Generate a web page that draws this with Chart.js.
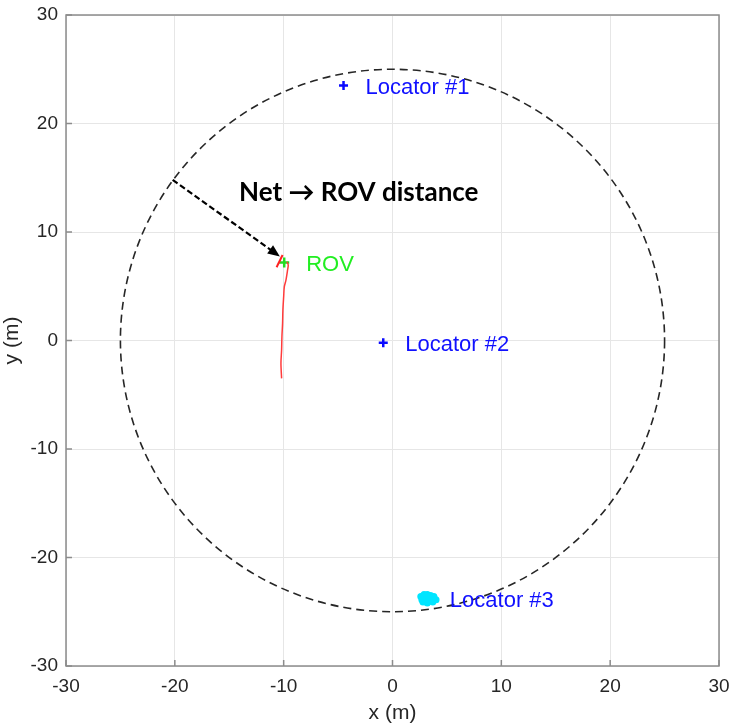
<!DOCTYPE html>
<html>
<head>
<meta charset="utf-8">
<script src="https://cdn.jsdelivr.net/npm/chart.js@4/dist/chart.umd.min.js"></script>
<style>
  html, body { margin: 0; padding: 0; background: #fff; }
  #wrap { width: 730px; height: 726px; }
</style>
</head>
<body>
<div id="wrap"><canvas id="c"></canvas></div>
<script>
// Axis tick values (m)
const axisTicks = [-30, -20, -10, 0, 10, 20, 30];

// ROV track (red)
const rovTrackX = [-10.19, -10.25, -10.19, -10.16, -10.10, -10.07, -10.00, -9.94, -9.79, -9.64, -9.58, -9.70];
const rovTrackY = [-3.49, -2.10, -0.88, 0.35, 1.58, 2.81, 4.04, 4.96, 5.57, 6.50, 6.96, 7.26];

// ROV heading stroke at the end of the track
const headingX = [-10.65, -10.10];
const headingY = [6.75, 7.88];

// Current ROV position
const rovX = [-9.95];
const rovY = [7.2];
const rovLabel = 'ROV';

// Locators
const locatorNames = ['Locator #1', 'Locator #2', 'Locator #3'];
const locatorX = [-4.5, -0.85, 3.25];
const locatorY = [23.5, -0.2, -23.85];

// Position fixes around Locator #3 (cyan)
const fixCloudX = [2.6, 2.9, 3.2, 3.5, 3.8, 4.0, 3.7, 3.2, 2.8, 3.0, 3.5, 2.7];
const fixCloudY = [-23.6, -23.4, -23.4, -23.5, -23.6, -23.9, -24.1, -24.2, -24.1, -23.8, -23.9, -23.9];

// Net pen (circle) and distance arrow
const netRadius = 25;
const arrowFrom = [-20.2, 14.8];
const arrowTo = [-10.35, 7.75];
const arrowText = 'Net \u2192 ROV distance';
const arrowTextAt = [-3.1, 13.6];

const pts = (xs, ys) => xs.map((x, i) => ({ x, y: ys[i] }));
const sans = '"Liberation Sans", Arial, sans-serif';

const overlay = {
  id: 'overlay',
  beforeDatasetsDraw(chart) {
    const { ctx, scales: { x, y } } = chart;
    const cx = x.getPixelForValue(0), cy = y.getPixelForValue(0);
    const rx = x.getPixelForValue(netRadius) - cx;
    const ry = cy - y.getPixelForValue(netRadius);
    ctx.save();
    ctx.strokeStyle = '#262626';
    ctx.lineWidth = 1.6;
    ctx.setLineDash([8, 5]);
    ctx.beginPath();
    ctx.ellipse(cx, cy, rx, ry, 0, 0, Math.PI * 2);
    ctx.stroke();
    ctx.restore();
  },
  afterDatasetsDraw(chart) {
    const { ctx, chartArea: a, scales: { x, y } } = chart;
    ctx.save();
    // distance arrow
    const x0 = x.getPixelForValue(arrowFrom[0]), y0 = y.getPixelForValue(arrowFrom[1]);
    const x1 = x.getPixelForValue(arrowTo[0]), y1 = y.getPixelForValue(arrowTo[1]);
    const ang = Math.atan2(y1 - y0, x1 - x0);
    const headLen = 13;
    ctx.strokeStyle = '#000';
    ctx.fillStyle = '#000';
    ctx.lineWidth = 2.2;
    ctx.setLineDash([6, 3]);
    ctx.beginPath();
    ctx.moveTo(x0, y0);
    ctx.lineTo(x1 - headLen * 0.8 * Math.cos(ang), y1 - headLen * 0.8 * Math.sin(ang));
    ctx.stroke();
    ctx.setLineDash([]);
    ctx.beginPath();
    ctx.moveTo(x1, y1);
    ctx.lineTo(x1 - headLen * Math.cos(ang - 0.4), y1 - headLen * Math.sin(ang - 0.4));
    ctx.lineTo(x1 - headLen * Math.cos(ang + 0.4), y1 - headLen * Math.sin(ang + 0.4));
    ctx.closePath();
    ctx.fill();

    // arrow caption
    ctx.font = 'bold 26px Lato, "DejaVu Sans", sans-serif';
    ctx.textAlign = 'center';
    ctx.textBaseline = 'middle';
    ctx.fillText(arrowText, x.getPixelForValue(arrowTextAt[0]), y.getPixelForValue(arrowTextAt[1]));

    // locator labels
    ctx.font = '22px ' + sans;
    ctx.textAlign = 'left';
    ctx.fillStyle = '#1010ff';
    locatorNames.forEach((n, i) => {
      ctx.fillText(n, x.getPixelForValue(locatorX[i]) + 22, y.getPixelForValue(locatorY[i]) + 2);
    });
    ctx.fillStyle = '#22ee22';
    ctx.fillText(rovLabel, x.getPixelForValue(rovX[0]) + 22, y.getPixelForValue(rovY[0]) + 3);

    // axes box with inward ticks
    ctx.strokeStyle = '#8c8c8c';
    ctx.lineWidth = 1.5;
    ctx.strokeRect(a.left, a.top, a.right - a.left, a.bottom - a.top);
    ctx.beginPath();
    axisTicks.forEach(t => {
      const px = x.getPixelForValue(t), py = y.getPixelForValue(t);
      ctx.moveTo(px, a.bottom); ctx.lineTo(px, a.bottom - 6);
      ctx.moveTo(a.left, py); ctx.lineTo(a.left + 6, py);
    });
    ctx.stroke();
    ctx.restore();
  }
};

const tickFont = { family: sans, size: 19 };
const titleFont = { family: sans, size: 21 };
const fitX = s => { s.paddingLeft = 0; s.paddingRight = 0; s.height = 60; };
const fitY = s => { s.paddingTop = 0; s.paddingBottom = 0; s.width = 66; };

new Chart(document.getElementById('c'), {
  type: 'scatter',
  data: {
    datasets: [
      {
        data: pts(fixCloudX, fixCloudY),
        pointStyle: 'circle', pointRadius: 3.5, pointBorderWidth: 0,
        backgroundColor: '#00e5ff', borderColor: '#00e5ff'
      },
      {
        data: pts(rovTrackX, rovTrackY), showLine: true, pointRadius: 0,
        borderColor: '#ff3b3b', borderWidth: 1.5, tension: 0.3
      },
      {
        data: pts(headingX, headingY), showLine: true, pointRadius: 0,
        borderColor: '#ff2020', borderWidth: 2
      },
      {
        data: pts(rovX, rovY), pointStyle: 'cross', pointRadius: 5,
        borderColor: '#22dd22', pointBorderWidth: 2.5
      },
      {
        data: pts(locatorX, locatorY), pointStyle: 'cross', pointRadius: 4.5,
        borderColor: ['#0a0aff', '#0a0aff', '#0a0a70'], pointBorderWidth: 2.5
      }
    ]
  },
  options: {
    responsive: true,
    maintainAspectRatio: false,
    animation: false,
    layout: { padding: { top: 15, right: 11, left: 0, bottom: 0 } },
    plugins: { legend: { display: false }, tooltip: { enabled: false } },
    scales: {
      x: {
        type: 'linear', min: -30, max: 30,
        afterBuildTicks: s => { s.ticks = axisTicks.map(v => ({ value: v })); },
        afterFit: fitX,
        grid: { color: '#e6e6e6', lineWidth: 1, drawTicks: false },
        border: { display: false },
        ticks: { color: '#262626', font: tickFont, padding: 9, maxRotation: 0 },
        title: { display: true, text: 'x (m)', color: '#262626', font: titleFont, padding: { top: 0, bottom: 0 } }
      },
      y: {
        type: 'linear', min: -30, max: 30,
        afterBuildTicks: s => { s.ticks = axisTicks.map(v => ({ value: v })); },
        afterFit: fitY,
        grid: { color: '#e6e6e6', lineWidth: 1, drawTicks: false },
        border: { display: false },
        ticks: { color: '#262626', font: tickFont, padding: 8 },
        title: { display: true, text: 'y (m)', color: '#262626', font: titleFont, padding: { top: 0, bottom: 0 } }
      }
    }
  },
  plugins: [overlay]
});
</script>
</body>
</html>
